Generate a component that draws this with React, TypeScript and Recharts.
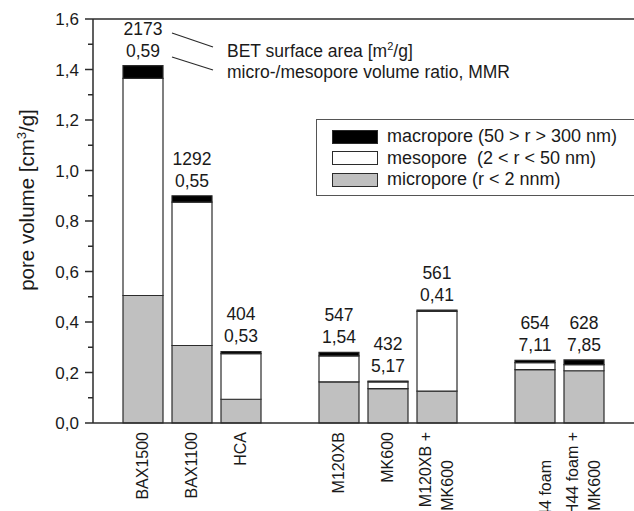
import { BarChart, Bar, XAxis, YAxis, Legend, LabelList, ReferenceLine, Customized } from 'recharts';

// samples (empty slots keep the gaps between the three groups)
const categories = ['BAX1500', 'BAX1100', 'HCA', 'gap-a', 'M120XB', 'MK600', 'M120XB + MK600', 'gap-b', 'H44 foam', 'H44 foam + MK600'];
const tickLabels: string[][] = [
    ['BAX1500'], ['BAX1100'], ['HCA'], [], ['M120XB'], ['MK600'], ['M120XB +', 'MK600'], [], ['', 'H44 foam'], ['H44 foam +', 'MK600'],
];

// pore volume in cm3/g
const micro = [0.505, 0.307, 0.094, null, 0.163, 0.136, 0.126, null, 0.211, 0.207];
const meso = [0.86, 0.568, 0.181, null, 0.103, 0.027, 0.316, null, 0.028, 0.024];
const macro = [0.05, 0.025, 0.008, null, 0.014, 0.003, 0.005, null, 0.009, 0.019];

// BET surface area [m2/g] and micro-/mesopore volume ratio
const bet = ['2173', '1292', '404', '', '547', '432', '561', '', '654', '628'];
const mmr = ['0,59', '0,55', '0,53', '', '1,54', '5,17', '0,41', '', '7,11', '7,85'];

const yTicks = [0, 0.1, 0.2, 0.3, 0.4, 0.5, 0.6, 0.7, 0.8, 0.9, 1.0, 1.1, 1.2, 1.3, 1.4, 1.5, 1.6];

const legendNames = ['macropore (50 > r > 300 nm)', 'mesopore  (2 < r < 50 nm)', 'micropore (r < 2 nnm)'];
const legendFills = ['#000000', '#ffffff', '#c0c0c0'];

const FONT = '"Liberation Sans", Arial, Helvetica, sans-serif';
const INK = '#1a1a1a';
const EDGE = '#2b2b2b';

const data = categories.map((name, i) => ({ name, micro: micro[i], meso: meso[i], macro: macro[i] }));

const YTick = ({ x, y, payload }: any) => {
    const v = payload.value as number;
    const major = Math.round(v * 10) % 2 === 0;
    const axisX = x + 14;
    return (
        <g>
            <line x1={major ? axisX - 8 : axisX - 5} x2={axisX} y1={y} y2={y} stroke={EDGE} strokeWidth={1.5} />
            {major && (
                <text x={x} y={y} dy="0.36em" textAnchor="end" fontSize={17} fontFamily={FONT} fill={INK}>
                    {v.toFixed(1).replace('.', ',')}
                </text>
            )}
        </g>
    );
};

const XTick = ({ x, y, index }: any) => {
    const lines = tickLabels[index] || [];
    const n = lines.length;
    return (
        <g transform={`translate(${x},${y})`}>
            {lines.map((line, k) => (
                <text
                    key={k}
                    transform="rotate(-90)"
                    x={k === 0 ? -9 : -37}
                    y={(k - (n - 1) / 2) * 22}
                    dy="0.36em"
                    textAnchor="end"
                    fontSize={16}
                    fontFamily={FONT}
                    fill={INK}
                >
                    {line}
                </text>
            ))}
        </g>
    );
};

const YLabel = ({ viewBox }: any) => {
    const cx = viewBox.x + 27;
    const cy = viewBox.y + viewBox.height / 2 - 21;
    return (
        <text transform={`translate(${cx},${cy}) rotate(-90)`} textAnchor="middle" dy="0.36em" fontSize={20.5} fontFamily={FONT} fill={INK}>
            pore volume [cm<tspan dy={-8} fontSize={13}>3</tspan><tspan dy={8}>/g]</tspan>
        </text>
    );
};

const BarNotes = ({ x, y, width, value }: any) => {
    const i = categories.indexOf(value);
    if (i < 0 || !bet[i]) return null;
    const cx = x + width / 2;
    return (
        <g fontFamily={FONT} fontSize={17.5} fill={INK} textAnchor="middle">
            <text x={cx} y={y - 37.5} dy="0.36em">{bet[i]}</text>
            <text x={cx} y={y - 15.5} dy="0.36em">{mmr[i]}</text>
        </g>
    );
};

const Callouts = () => (
    <g fontFamily={FONT} fontSize={17.5} fill={INK}>
        <line x1={172} y1={33} x2={213} y2={47} stroke={EDGE} strokeWidth={1.2} />
        <line x1={172} y1={57} x2={213} y2={70} stroke={EDGE} strokeWidth={1.2} />
        <text x={227} y={51} dy="0.36em">
            BET surface area [m<tspan dy={-7} fontSize={11}>2</tspan><tspan dy={7}>/g]</tspan>
        </text>
        <text x={227} y={72} dy="0.36em">micro-/mesopore volume ratio, MMR</text>
    </g>
);

const LegendBox = () => (
    <div style={{ border: '1px solid #555', background: '#fff', height: 77, paddingTop: 6, boxSizing: 'border-box', fontFamily: FONT }}>
        {legendNames.map((name, i) => (
            <div key={name} style={{ display: 'flex', alignItems: 'center', height: 21.5 }}>
                <div style={{ width: 44, height: 12, marginLeft: 15, background: legendFills[i], border: `1px solid ${EDGE}` }} />
                <span style={{ marginLeft: 9, fontSize: 18, color: INK, whiteSpace: 'pre' }}>{name}</span>
            </div>
        ))}
    </div>
);

export default function App() {
    return (
        <div style={{ position: 'absolute', left: 0, top: 0, width: 634, height: 511, overflow: 'hidden', background: '#fff' }}>
            <BarChart width={660} height={540} data={data} margin={{ top: 19, right: 3, left: 0, bottom: 0 }} barSize={40}>
                <XAxis
                    dataKey="name"
                    interval={0}
                    height={117}
                    padding={{ left: 25, right: 49 }}
                    tickLine={false}
                    tickSize={0}
                    tickMargin={0}
                    tick={<XTick />}
                    axisLine={{ stroke: EDGE, strokeWidth: 1.5 }}
                />
                <YAxis
                    width={93}
                    domain={[0, 1.6]}
                    ticks={yTicks}
                    interval={0}
                    tickLine={false}
                    tickSize={8}
                    tickMargin={6}
                    tick={<YTick />}
                    axisLine={{ stroke: EDGE, strokeWidth: 1.5 }}
                    label={{ content: <YLabel /> }}
                />
                <ReferenceLine y={1.6} stroke={EDGE} strokeWidth={1.5} />
                <Legend layout="vertical" align="center" verticalAlign="middle" wrapperStyle={{ left: 316, top: 119, width: 340 }} content={<LegendBox />} />
                <Bar dataKey="micro" name="micropore" stackId="pv" fill="#c0c0c0" stroke={EDGE} strokeWidth={1.2} isAnimationActive={false} />
                <Bar dataKey="meso" name="mesopore" stackId="pv" fill="#ffffff" stroke={EDGE} strokeWidth={1.2} isAnimationActive={false} />
                <Bar dataKey="macro" name="macropore" stackId="pv" fill="#000000" stroke={EDGE} strokeWidth={1.2} isAnimationActive={false}>
                    <LabelList dataKey="name" content={<BarNotes />} />
                </Bar>
                <Customized component={<Callouts />} />
            </BarChart>
        </div>
    );
}
